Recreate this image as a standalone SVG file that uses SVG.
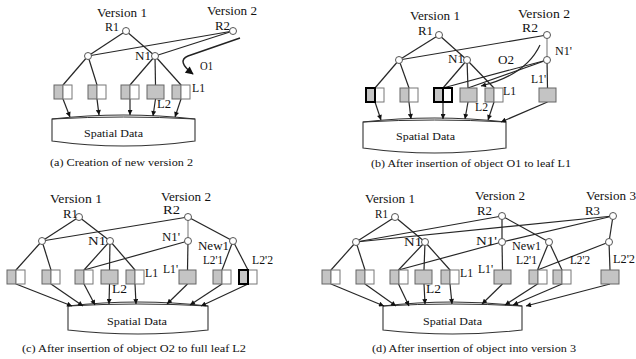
<svg xmlns="http://www.w3.org/2000/svg" width="636" height="359" viewBox="0 0 636 359">
<defs>
<marker id="ah" viewBox="0 0 10 10" refX="10" refY="5" markerWidth="6" markerHeight="5" markerUnits="userSpaceOnUse" orient="auto"><path d="M0,0 L10,5 L0,10 z" fill="#111"/></marker>
<marker id="big" viewBox="0 0 10 10" refX="9" refY="5" markerWidth="10" markerHeight="8" markerUnits="userSpaceOnUse" orient="auto"><path d="M0,0 L10,5 L0,10 z" fill="#111"/></marker>
</defs>
<style>
text{font-family:"Liberation Serif","DejaVu Serif","Times New Roman",serif;fill:#111}
.v{font-size:12px}
.lb{font-size:12px}
.cap{font-size:10.5px}
.sd{font-size:11px}
.e{stroke:#262626;stroke-width:1.2;fill:none}
.eg{stroke:#8a8a8a;stroke-width:1.2;fill:none}
.a{stroke:#262626;stroke-width:1.2;fill:none;marker-end:url(#ah)}
.n{fill:#fff;stroke:#555;stroke-width:1}
.g{fill:#c4c4c4;stroke:#666;stroke-width:1}
.w{fill:#fff;stroke:#777;stroke-width:1}
.tk{stroke:#000;stroke-width:2}
.db{fill:#fff;stroke:#333;stroke-width:1.1}
.dl{fill:none;stroke:#333;stroke-width:1}
</style>
<rect width="636" height="359" fill="#fff"/>

<!-- ============ Panel (a) ============ -->
<g id="a-spatial">
<path class="db" d="M52,119 L52,141 Q123.5,151 195,141 L195,119 Q123.5,111 52,119 Z"/>
<path class="dl" d="M52,119 Q123.5,115 195,119"/>
<text class="sd" x="84" y="137" textLength="59" lengthAdjust="spacingAndGlyphs">Spatial Data</text>
</g>
<g id="a-connectors">
<line class="e" x1="126" y1="31" x2="88" y2="56"/>
<line class="e" x1="126" y1="31" x2="155" y2="56"/>
<line class="e" x1="233" y1="31" x2="88" y2="56"/>
<line class="e" x1="233" y1="31" x2="155" y2="56"/>
<line class="e" x1="88" y1="56" x2="63" y2="85"/>
<line class="e" x1="88" y1="56" x2="97" y2="85"/>
<line class="e" x1="155" y1="56" x2="130" y2="85"/>
<line class="e" x1="155" y1="56" x2="155.5" y2="85"/>
<line class="e" x1="155" y1="56" x2="181" y2="85"/>
<path d="M240,38 L188,56 Q176,61 193,74" fill="none" stroke="#222" stroke-width="1.4" marker-end="url(#big)"/>
<line class="a" x1="63" y1="99" x2="70" y2="117"/>
<line class="a" x1="97" y1="99" x2="99" y2="115"/>
<line class="a" x1="130" y1="99" x2="130" y2="115"/>
<line class="a" x1="155.5" y1="99" x2="153" y2="116"/>
<line class="a" x1="181" y1="99" x2="175" y2="117"/>
</g>
<text class="v" x="97" y="17" textLength="50" lengthAdjust="spacingAndGlyphs">Version 1</text>
<text class="v" x="207" y="15" textLength="50" lengthAdjust="spacingAndGlyphs">Version 2</text>
<text class="lb" x="200" y="70" textLength="13" lengthAdjust="spacingAndGlyphs">O1</text>
<g id="a-R1"><circle class="n" cx="126" cy="31" r="3.5"/><text class="lb" x="105" y="31" textLength="14" lengthAdjust="spacingAndGlyphs">R1</text></g>
<g id="a-R2"><circle class="n" cx="233" cy="31" r="3.5"/><text class="lb" x="215" y="30" textLength="15" lengthAdjust="spacingAndGlyphs">R2</text></g>
<g id="a-left"><circle class="n" cx="88" cy="56" r="3.5"/></g>
<g id="a-N1"><circle class="n" cx="155" cy="56" r="3.5"/><text class="lb" x="135" y="60" textLength="16" lengthAdjust="spacingAndGlyphs">N1</text></g>
<g id="a-leaf1"><rect class="g" x="54" y="85" width="9" height="14"/><rect class="w" x="63" y="85" width="9" height="14"/></g>
<g id="a-leaf2"><rect class="g" x="88" y="85" width="9" height="14"/><rect class="w" x="97" y="85" width="9" height="14"/></g>
<g id="a-leaf3"><rect class="g" x="121" y="85" width="9" height="14"/><rect class="w" x="130" y="85" width="9" height="14"/></g>
<g id="a-L2"><rect class="g" x="147" y="85" width="17" height="14"/><text class="lb" x="157" y="108" textLength="14" lengthAdjust="spacingAndGlyphs">L2</text></g>
<g id="a-L1"><rect class="g" x="172" y="85" width="9" height="14"/><rect class="w" x="181" y="85" width="9" height="14"/><text class="lb" x="192" y="92" textLength="13" lengthAdjust="spacingAndGlyphs">L1</text></g>
<text class="cap" x="50" y="166" textLength="143" lengthAdjust="spacingAndGlyphs">(a) Creation of new version 2</text>

<!-- ============ Panel (b) ============ -->
<g id="b-spatial">
<path class="db" d="M363,122 L363,148 Q434.5,158 506,148 L506,122 Q434.5,114 363,122 Z"/>
<path class="dl" d="M363,122 Q434.5,118 506,122"/>
<text class="sd" x="396" y="140" textLength="59" lengthAdjust="spacingAndGlyphs">Spatial Data</text>
</g>
<g id="b-connectors">
<line class="e" x1="439" y1="35" x2="399" y2="60"/>
<line class="e" x1="439" y1="35" x2="467" y2="60"/>
<line class="e" x1="547" y1="35" x2="399" y2="60"/>
<line class="eg" x1="547" y1="35" x2="547" y2="60"/>
<line class="e" x1="399" y1="60" x2="375" y2="88"/>
<line class="e" x1="399" y1="60" x2="409" y2="88"/>
<line class="e" x1="467" y1="60" x2="443" y2="88"/>
<line class="e" x1="467" y1="60" x2="468" y2="88"/>
<line class="e" x1="467" y1="60" x2="494" y2="88"/>
<line class="e" x1="547" y1="60" x2="443" y2="88"/>
<line class="e" x1="547" y1="60" x2="468" y2="88"/>
<line class="e" x1="547" y1="60" x2="547.5" y2="88"/>
<path class="a" d="M540,45 Q526,75 481,86"/>
<line class="a" x1="375" y1="102" x2="381" y2="120"/>
<line class="a" x1="409" y1="102" x2="411" y2="119"/>
<line class="a" x1="443" y1="102" x2="443" y2="119"/>
<line class="a" x1="468" y1="102" x2="465" y2="119"/>
<line class="a" x1="494" y1="102" x2="488" y2="120"/>
<line class="a" x1="547.5" y1="102" x2="501" y2="122"/>
</g>
<text class="v" x="410" y="20" textLength="50" lengthAdjust="spacingAndGlyphs">Version 1</text>
<text class="v" x="518" y="18" textLength="52" lengthAdjust="spacingAndGlyphs">Version 2</text>
<text class="lb" x="498" y="64" textLength="16" lengthAdjust="spacingAndGlyphs">O2</text>
<g id="b-R1"><circle class="n" cx="439" cy="35" r="3.5"/><text class="lb" x="418" y="35" textLength="15" lengthAdjust="spacingAndGlyphs">R1</text></g>
<g id="b-R2"><circle class="n" cx="547" cy="35" r="3.5"/><text class="lb" x="522" y="32" textLength="16" lengthAdjust="spacingAndGlyphs">R2</text></g>
<g id="b-left"><circle class="n" cx="399" cy="60" r="3.5"/></g>
<g id="b-N1"><circle class="n" cx="467" cy="60" r="3.5"/><text class="lb" x="448" y="63" textLength="16" lengthAdjust="spacingAndGlyphs">N1</text></g>
<g id="b-N1p"><circle class="n" cx="547" cy="60" r="3.5"/><text class="lb" x="555" y="55" textLength="17" lengthAdjust="spacingAndGlyphs">N1'</text></g>
<g id="b-leaf1"><rect class="w" x="375" y="88" width="9" height="14"/><rect class="g tk" x="366" y="88" width="9" height="14"/></g>
<g id="b-leaf2"><rect class="g" x="400" y="88" width="9" height="14"/><rect class="w" x="409" y="88" width="9" height="14"/></g>
<g id="b-leaf3"><rect class="g tk" x="434" y="88" width="9" height="14"/><rect class="w tk" x="443" y="88" width="9" height="14"/></g>
<g id="b-L2"><rect class="g" x="460" y="88" width="17" height="14"/><text class="lb" x="475" y="111" textLength="13" lengthAdjust="spacingAndGlyphs">L2</text></g>
<g id="b-L1"><rect class="g" x="485" y="88" width="9" height="14"/><rect class="w" x="494" y="88" width="9" height="14"/><text class="lb" x="503" y="95" textLength="13" lengthAdjust="spacingAndGlyphs">L1</text></g>
<g id="b-L1p"><rect class="g" x="539" y="88" width="17" height="14"/><text class="lb" x="531" y="83" textLength="15" lengthAdjust="spacingAndGlyphs">L1'</text></g>
<text class="cap" x="371" y="167" textLength="200" lengthAdjust="spacingAndGlyphs">(b) After insertion of object O1 to leaf L1</text>

<!-- ============ Panel (c) ============ -->
<g id="c-spatial">
<path class="db" d="M68,306 L68,330 Q138,338 208,330 L208,306 Q138,298 68,306 Z"/>
<path class="dl" d="M68,306 Q138,302 208,306"/>
<text class="sd" x="107" y="325" textLength="60" lengthAdjust="spacingAndGlyphs">Spatial Data</text>
</g>
<g id="c-connectors">
<line class="e" x1="79" y1="217" x2="42" y2="241"/>
<line class="e" x1="79" y1="217" x2="110" y2="241"/>
<line class="e" x1="188" y1="217" x2="42" y2="241"/>
<line class="eg" x1="188" y1="217" x2="188" y2="241"/>
<line class="e" x1="188" y1="217" x2="233" y2="241"/>
<line class="e" x1="42" y1="241" x2="16" y2="270"/>
<line class="e" x1="42" y1="241" x2="51" y2="270"/>
<line class="e" x1="110" y1="241" x2="84" y2="270"/>
<line class="e" x1="110" y1="241" x2="109.5" y2="270"/>
<line class="e" x1="110" y1="241" x2="135" y2="270"/>
<line class="e" x1="188" y1="241" x2="84" y2="270"/>
<line class="e" x1="188" y1="241" x2="187.5" y2="270"/>
<line class="e" x1="233" y1="241" x2="222" y2="270"/>
<line class="e" x1="233" y1="241" x2="248" y2="270"/>
<line class="a" x1="16" y1="284" x2="72" y2="306"/>
<line class="a" x1="51" y1="284" x2="83" y2="306"/>
<line class="a" x1="84" y1="284" x2="95" y2="305"/>
<line class="a" x1="109.5" y1="284" x2="109" y2="304"/>
<line class="a" x1="135" y1="284" x2="136" y2="304"/>
<line class="a" x1="187.5" y1="284" x2="167" y2="304"/>
<line class="a" x1="222" y1="284" x2="190" y2="305"/>
<line class="a" x1="248" y1="284" x2="201" y2="306"/>
</g>
<text class="v" x="50" y="203" textLength="52" lengthAdjust="spacingAndGlyphs">Version 1</text>
<text class="v" x="161" y="201" textLength="50" lengthAdjust="spacingAndGlyphs">Version 2</text>
<g id="c-R1"><circle class="n" cx="79" cy="217" r="3.5"/><text class="lb" x="63" y="218" textLength="15" lengthAdjust="spacingAndGlyphs">R1</text></g>
<g id="c-R2"><circle class="n" cx="188" cy="217" r="3.5"/><text class="lb" x="163" y="214" textLength="17" lengthAdjust="spacingAndGlyphs">R2</text></g>
<g id="c-left"><circle class="n" cx="42" cy="241" r="3.5"/></g>
<g id="c-N1"><circle class="n" cx="110" cy="241" r="3.5"/><text class="lb" x="88" y="245" textLength="18" lengthAdjust="spacingAndGlyphs">N1</text></g>
<g id="c-N1p"><circle class="n" cx="188" cy="241" r="3.5"/><text class="lb" x="162" y="241" textLength="18" lengthAdjust="spacingAndGlyphs">N1'</text></g>
<g id="c-New1"><circle class="n" cx="233" cy="241" r="3.5"/><text class="lb" x="198" y="250" textLength="31" lengthAdjust="spacingAndGlyphs">New1</text></g>
<g id="c-leaf1"><rect class="g" x="7" y="270" width="9" height="14"/><rect class="w" x="16" y="270" width="9" height="14"/></g>
<g id="c-leaf2"><rect class="g" x="42" y="270" width="9" height="14"/><rect class="w" x="51" y="270" width="9" height="14"/></g>
<g id="c-leaf3"><rect class="g" x="75" y="270" width="9" height="14"/><rect class="w" x="84" y="270" width="9" height="14"/></g>
<g id="c-L2"><rect class="g" x="101" y="270" width="17" height="14"/><text class="lb" x="112" y="293" textLength="15" lengthAdjust="spacingAndGlyphs">L2</text></g>
<g id="c-L1"><rect class="g" x="126" y="270" width="9" height="14"/><rect class="w" x="135" y="270" width="9" height="14"/><text class="lb" x="145" y="277" textLength="13" lengthAdjust="spacingAndGlyphs">L1</text></g>
<g id="c-L1p"><rect class="g" x="179" y="270" width="17" height="14"/><text class="lb" x="163" y="273" textLength="15" lengthAdjust="spacingAndGlyphs">L1'</text></g>
<g id="c-L2p1"><rect class="g" x="213" y="270" width="9" height="14"/><rect class="w" x="222" y="270" width="9" height="14"/><text class="lb" x="203" y="264" textLength="20" lengthAdjust="spacingAndGlyphs">L2'1</text></g>
<g id="c-L2p2"><rect class="w" x="248" y="270" width="9" height="14"/><rect class="g tk" x="239" y="270" width="9" height="14"/><text class="lb" x="252" y="264" textLength="21" lengthAdjust="spacingAndGlyphs">L2'2</text></g>
<text class="cap" x="22" y="352" textLength="224" lengthAdjust="spacingAndGlyphs">(c) After insertion of object O2 to full leaf L2</text>

<!-- ============ Panel (d) ============ -->
<g id="d-spatial">
<path class="db" d="M383,306 L383,330 Q452.5,338 522,330 L522,306 Q452.5,298 383,306 Z"/>
<path class="dl" d="M383,306 Q452.5,302 522,306"/>
<text class="sd" x="423" y="325" textLength="59" lengthAdjust="spacingAndGlyphs">Spatial Data</text>
</g>
<g id="d-connectors">
<line class="e" x1="395" y1="217" x2="356" y2="242"/>
<line class="e" x1="395" y1="217" x2="425" y2="242"/>
<line class="e" x1="502" y1="216" x2="356" y2="242"/>
<line class="e" x1="502" y1="216" x2="502" y2="242"/>
<line class="e" x1="502" y1="216" x2="549" y2="242"/>
<line class="e" x1="613" y1="216" x2="356" y2="242"/>
<line class="e" x1="613" y1="216" x2="502" y2="242"/>
<line class="e" x1="613" y1="216" x2="609" y2="242"/>
<line class="e" x1="356" y1="242" x2="331" y2="270"/>
<line class="e" x1="356" y1="242" x2="365" y2="270"/>
<line class="e" x1="425" y1="242" x2="398.5" y2="270"/>
<line class="e" x1="425" y1="242" x2="424" y2="270"/>
<line class="e" x1="425" y1="242" x2="450" y2="270"/>
<line class="e" x1="502" y1="242" x2="398.5" y2="270"/>
<line class="e" x1="502" y1="242" x2="502.5" y2="270"/>
<line class="e" x1="549" y1="242" x2="537.5" y2="270"/>
<line class="e" x1="549" y1="242" x2="562" y2="270"/>
<line class="e" x1="609" y1="242" x2="537.5" y2="270"/>
<line class="e" x1="609" y1="242" x2="610" y2="270"/>
<line class="a" x1="331" y1="284" x2="384" y2="306"/>
<line class="a" x1="365" y1="284" x2="396" y2="306"/>
<line class="a" x1="398.5" y1="284" x2="409" y2="306"/>
<line class="a" x1="424" y1="284" x2="425" y2="304"/>
<line class="a" x1="450" y1="284" x2="452" y2="304"/>
<line class="a" x1="502.5" y1="284" x2="482" y2="304"/>
<line class="a" x1="537.5" y1="284" x2="505" y2="305"/>
<line class="a" x1="562" y1="284" x2="513" y2="305"/>
<line class="a" x1="610" y1="284" x2="526" y2="306"/>
</g>
<text class="v" x="365" y="203" textLength="50" lengthAdjust="spacingAndGlyphs">Version 1</text>
<text class="v" x="475" y="200" textLength="50" lengthAdjust="spacingAndGlyphs">Version 2</text>
<text class="v" x="586" y="200" textLength="50" lengthAdjust="spacingAndGlyphs">Version 3</text>
<g id="d-R1"><circle class="n" cx="395" cy="217" r="3.5"/><text class="lb" x="375" y="218" textLength="13" lengthAdjust="spacingAndGlyphs">R1</text></g>
<g id="d-R2"><circle class="n" cx="502" cy="216" r="3.5"/><text class="lb" x="477" y="214.5" textLength="15" lengthAdjust="spacingAndGlyphs">R2</text></g>
<g id="d-R3"><circle class="n" cx="613" cy="216" r="3.5"/><text class="lb" x="585" y="214.5" textLength="15" lengthAdjust="spacingAndGlyphs">R3</text></g>
<g id="d-left"><circle class="n" cx="356" cy="242" r="3.5"/></g>
<g id="d-N1"><circle class="n" cx="425" cy="242" r="3.5"/><text class="lb" x="404" y="246" textLength="18" lengthAdjust="spacingAndGlyphs">N1</text></g>
<g id="d-N1p"><circle class="n" cx="502" cy="242" r="3.5"/><text class="lb" x="476" y="245" textLength="21" lengthAdjust="spacingAndGlyphs">N1'</text></g>
<g id="d-New1"><circle class="n" cx="549" cy="242" r="3.5"/><text class="lb" x="512" y="250" textLength="29" lengthAdjust="spacingAndGlyphs">New1</text></g>
<g id="d-New1b"><circle class="n" cx="609" cy="242" r="3.5"/></g>
<g id="d-leaf1"><rect class="g" x="322" y="270" width="9" height="14"/><rect class="w" x="331" y="270" width="9" height="14"/></g>
<g id="d-leaf2"><rect class="g" x="356" y="270" width="9" height="14"/><rect class="w" x="365" y="270" width="9" height="14"/></g>
<g id="d-leaf3"><rect class="g" x="390" y="270" width="9" height="14"/><rect class="w" x="399" y="270" width="9" height="14"/></g>
<g id="d-L2"><rect class="g" x="415" y="270" width="17" height="14"/><text class="lb" x="426" y="293" textLength="15" lengthAdjust="spacingAndGlyphs">L2</text></g>
<g id="d-L1"><rect class="g" x="441" y="270" width="9" height="14"/><rect class="w" x="450" y="270" width="9" height="14"/><text class="lb" x="460" y="277" textLength="13" lengthAdjust="spacingAndGlyphs">L1</text></g>
<g id="d-L1p"><rect class="g" x="494" y="270" width="17" height="14"/><text class="lb" x="478" y="273" textLength="15" lengthAdjust="spacingAndGlyphs">L1'</text></g>
<g id="d-L2p1"><rect class="g" x="529" y="270" width="9" height="14"/><rect class="w" x="538" y="270" width="9" height="14"/><text class="lb" x="516" y="264" textLength="21" lengthAdjust="spacingAndGlyphs">L2'1</text></g>
<g id="d-L2p2"><rect class="g" x="553" y="270" width="9" height="14"/><rect class="w" x="562" y="270" width="9" height="14"/><text class="lb" x="570" y="264" textLength="20" lengthAdjust="spacingAndGlyphs">L2'2</text></g>
<g id="d-L2p2b"><rect class="g" x="601" y="270" width="18" height="14"/><text class="lb" x="613" y="263" textLength="22" lengthAdjust="spacingAndGlyphs">L2'2</text></g>
<text class="cap" x="372" y="352" textLength="204" lengthAdjust="spacingAndGlyphs">(d) After insertion of object into version 3</text>
</svg>
